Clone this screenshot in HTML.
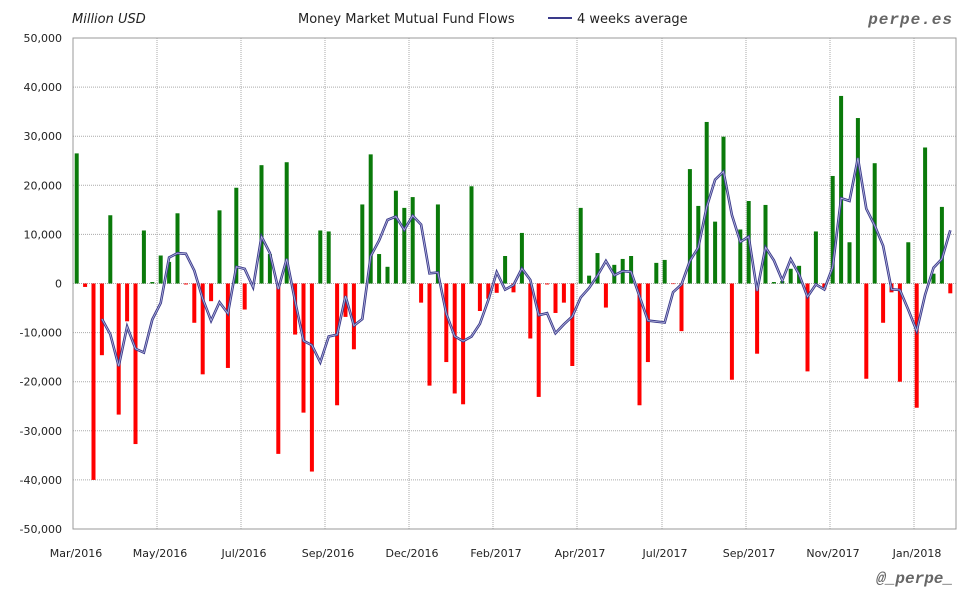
<!DOCTYPE html>
<html><head><meta charset="utf-8"><style>
html,body{margin:0;padding:0;background:#fff;}
svg{display:block;font-family:"DejaVu Sans","Liberation Sans",sans-serif;}
</style></head><body>
<svg id="c" width="980" height="600" xmlns="http://www.w3.org/2000/svg"></svg>
<script>
var d=[26.5,-0.7,-40,-14.6,13.9,-26.7,-7.7,-32.7,10.8,0.3,5.7,4.4,14.3,-0.2,-8,-18.5,-3.6,14.9,-17.2,19.5,-5.3,0,24.1,6,-34.7,24.7,-10.4,-26.3,-38.3,10.8,10.6,-24.8,-6.8,-13.4,16.1,26.3,6,3.4,18.9,15.4,17.6,-3.9,-20.8,16.1,-16,-22.4,-24.6,19.8,-5.6,-3.1,-1.9,5.6,-1.8,10.3,-11.2,-23.1,-0.2,-6,-3.9,-16.8,15.4,1.6,6.2,-4.9,3.8,5,5.6,-24.8,-16,4.2,4.8,-0.1,-9.7,23.3,15.8,32.9,12.6,29.9,-19.6,11,16.8,-14.3,16,0.3,0.5,3,3.6,-17.9,10.6,-1.2,21.9,38.2,8.4,33.7,-19.4,24.5,-8,-1.8,-20,8.4,-25.3,27.7,2,15.6,-2];
var L=73,R=956,T=38,B=529,Z=(T+B)/2,S=(B-T)/100;
function Y(v){return Z-v*S;}
var s='<rect x="0" y="0" width="980" height="600" fill="#fff"/>';
s+='<rect x="'+L+'" y="'+T+'" width="'+(R-L)+'" height="'+(B-T)+'" fill="#fff"/>';
for(var k=-50;k<=50;k+=10){var y=Y(k);
 if(k>-50&&k<50)s+='<line x1="'+L+'" x2="'+R+'" y1="'+y+'" y2="'+y+'" stroke="#aaa" stroke-dasharray="1,1"/>';
 var t=(k==0?'0':(k<0?'-':'')+Math.abs(k)+',000');
 s+='<text x="62" y="'+(y+4)+'" font-size="11" text-anchor="end" fill="#222">'+t+'</text>';}
var gx=[73,157,241,325,409,493,577,662,746,830,914],lab=['Mar/2016','May/2016','Jul/2016','Sep/2016','Dec/2016','Feb/2017','Apr/2017','Jul/2017','Sep/2017','Nov/2017','Jan/2018'];
for(var i=0;i<gx.length;i++){
 if(i>0)s+='<line x1="'+gx[i]+'" x2="'+gx[i]+'" y1="'+T+'" y2="'+B+'" stroke="#aaa" stroke-dasharray="1,1"/>';
 s+='<text x="'+(gx[i]+3)+'" y="557" font-size="11" text-anchor="middle" fill="#222">'+lab[i]+'</text>';}
for(var i=0;i<d.length;i++){var x=76.7+i*8.4,v=d[i];
 var y1=Y(Math.max(v,0)),h=Math.abs(v)*S;if(h<0.6)h=0.6;
 s+='<rect x="'+(x-2)+'" y="'+y1+'" width="4" height="'+h+'" fill="'+(v>=0?'#0a7a0a':'#f00')+'"/>';}
var p='';for(var i=3;i<d.length;i++){var a=(d[i]+d[i-1]+d[i-2]+d[i-3])/4;p+=(i==3?'M':'L')+(76.7+i*8.4).toFixed(1)+','+Y(a).toFixed(1);}
s+='<path d="'+p+'" fill="none" stroke="#3a3a8a" stroke-width="2.6"/>';
s+='<path d="'+p+'" fill="none" stroke="#b8b8e0" stroke-width="0.8"/>';
s+='<rect x="'+L+'" y="'+T+'" width="'+(R-L)+'" height="'+(B-T)+'" fill="none" stroke="#999"/>';
s+='<text x="72" y="23" font-size="13" font-style="italic" fill="#222">Million USD</text>';
s+='<text x="298" y="23" font-size="13" fill="#222">Money Market Mutual Fund Flows</text>';
s+='<line x1="548" x2="572" y1="18" y2="18" stroke="#3a3a8a" stroke-width="2"/>';
s+='<text x="577" y="23" font-size="13" fill="#222">4 weeks average</text>';
s+='<text x="953" y="24" font-size="16" font-weight="bold" font-style="italic" text-anchor="end" fill="#666" font-family="Liberation Mono,monospace" letter-spacing="1">perpe.es</text>';
s+='<text x="953" y="583" font-size="16" font-weight="bold" font-style="italic" text-anchor="end" fill="#666" font-family="Liberation Mono,monospace">@_perpe_</text>';
document.getElementById('c').innerHTML=s;
</script>
</body></html>
